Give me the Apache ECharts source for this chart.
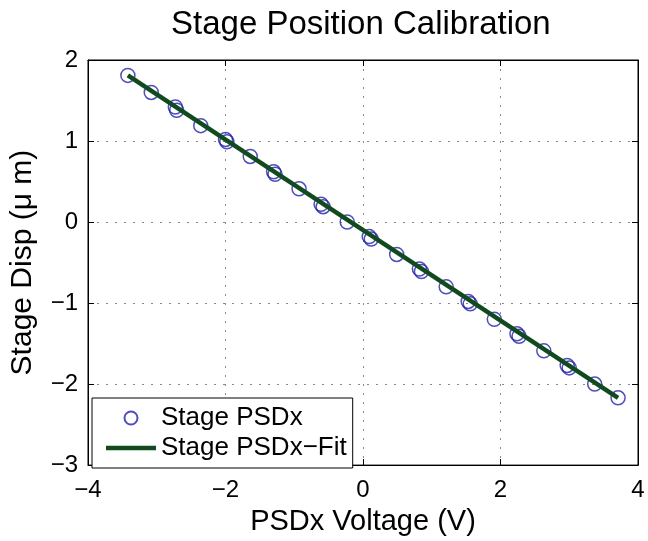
<!DOCTYPE html>
<html>
<head>
<meta charset="utf-8">
<script src="https://cdn.jsdelivr.net/npm/echarts@6/dist/echarts.min.js"></script>
<style>
html,body{margin:0;padding:0;background:#fff;}
#c{width:648px;height:541px;}
</style>
</head>
<body>
<div id="c"></div>
<script>
// Data
var titleText = 'Stage Position Calibration';
var xName = 'PSDx Voltage (V)';
var yName = 'Stage Disp (\u03bc m)';
var seriesNames = ['Stage PSDx', 'Stage PSDx\u2212Fit'];
var xTicks = [-4, -2, 0, 2, 4];
var yTicks = [-3, -2, -1, 0, 1, 2];
var measX = [-3.42, -3.08, -2.73, -2.71, -2.36, -2.00, -1.98, -1.64, -1.30, -1.28, -0.93, -0.61, -0.58, -0.23, 0.09, 0.12, 0.49, 0.82, 0.85, 1.21, 1.53, 1.56, 1.91, 2.24, 2.27, 2.63, 2.97, 3.00, 3.37, 3.71];
var measY = [1.81, 1.60, 1.42, 1.38, 1.19, 1.02, 0.99, 0.81, 0.62, 0.59, 0.41, 0.22, 0.19, 0.00, -0.18, -0.21, -0.40, -0.58, -0.61, -0.80, -0.98, -1.01, -1.20, -1.38, -1.41, -1.59, -1.77, -1.80, -2.00, -2.17];
var fitX = [-3.42, 3.71];
var fitY = [1.81, -2.17];

var FONT = '"Liberation Sans", Arial, Helvetica, sans-serif';
function fmt(v){ return String(v).replace('-', '\u2212'); }
function pairs(xs, ys){ return xs.map(function(x, i){ return [x, ys[i]]; }); }

var chart = echarts.init(document.getElementById('c'), null, {renderer: 'canvas'});
var axisCommon = {
  axisLine: {show: true, onZero: false, lineStyle: {color: '#000', width: 1}},
  axisTick: {show: true, inside: true, length: 6, lineStyle: {color: '#000'}}
};
chart.setOption({
  backgroundColor: '#fff',
  animation: false,
  title: {
    text: titleText, left: 171, top: 8, padding: 0,
    textStyle: {fontFamily: FONT, fontSize: 33, fontWeight: 'normal', color: '#000'}
  },
  grid: {left: 88, right: 10, top: 60, bottom: 66, show: true, borderColor: '#000', borderWidth: 1, backgroundColor: '#fff'},
  legend: {
    orient: 'vertical', left: 92, top: 398,
    padding: [7, 6, 7, 14], itemGap: 4, itemWidth: 50, itemHeight: 13,
    backgroundColor: '#fff', borderColor: '#000', borderWidth: 1, borderRadius: 0,
    textStyle: {fontFamily: FONT, fontSize: 26, color: '#000', padding: [0,0,0,0]},
    data: [
      {name: seriesNames[0]},
      {name: seriesNames[1], icon: 'path://M0,0H50V4.5H0Z', itemStyle: {color: '#114a1e'}}
    ]
  },
  xAxis: [
    Object.assign({
      type: 'value', min: -4, max: 4, interval: 2, position: 'bottom',
      name: xName, nameLocation: 'middle', nameGap: 41,
      nameTextStyle: {fontFamily: FONT, fontSize: 29, color: '#000'},
      axisLabel: {fontFamily: FONT, fontSize: 24, color: '#000', margin: 13, formatter: fmt},
      splitLine: {show: true, lineStyle: {color: '#8a8a8a', width: 1, type: [2, 7]}}
    }, axisCommon),
    Object.assign({
      type: 'value', min: -4, max: 4, interval: 2, position: 'top',
      axisLabel: {show: false}, splitLine: {show: false}
    }, axisCommon)
  ],
  yAxis: [
    Object.assign({
      type: 'value', min: -3, max: 2, interval: 1, position: 'left',
      name: yName, nameLocation: 'middle', nameGap: 50,
      nameTextStyle: {fontFamily: FONT, fontSize: 30, color: '#000'},
      axisLabel: {fontFamily: FONT, fontSize: 24, color: '#000', margin: 10, formatter: fmt},
      splitLine: {show: true, lineStyle: {color: '#8a8a8a', width: 1, type: [2, 7]}}
    }, axisCommon),
    Object.assign({
      type: 'value', min: -3, max: 2, interval: 1, position: 'right',
      axisLabel: {show: false}, splitLine: {show: false}
    }, axisCommon)
  ],
  series: [
    {
      name: seriesNames[0], type: 'scatter', xAxisIndex: 0, yAxisIndex: 0,
      symbol: 'circle', symbolSize: 14,
      itemStyle: {color: 'rgba(0,0,0,0)', borderColor: '#2323a8', borderWidth: 1.5},
      data: pairs(measX, measY)
    },
    {
      name: seriesNames[1], type: 'line', xAxisIndex: 0, yAxisIndex: 0,
      showSymbol: false, symbol: 'none',
      itemStyle: {color: '#114a1e'},
      lineStyle: {color: '#114a1e', width: 4.5},
      data: pairs(fitX, fitY)
    }
  ]
});
</script>
</body>
</html>
